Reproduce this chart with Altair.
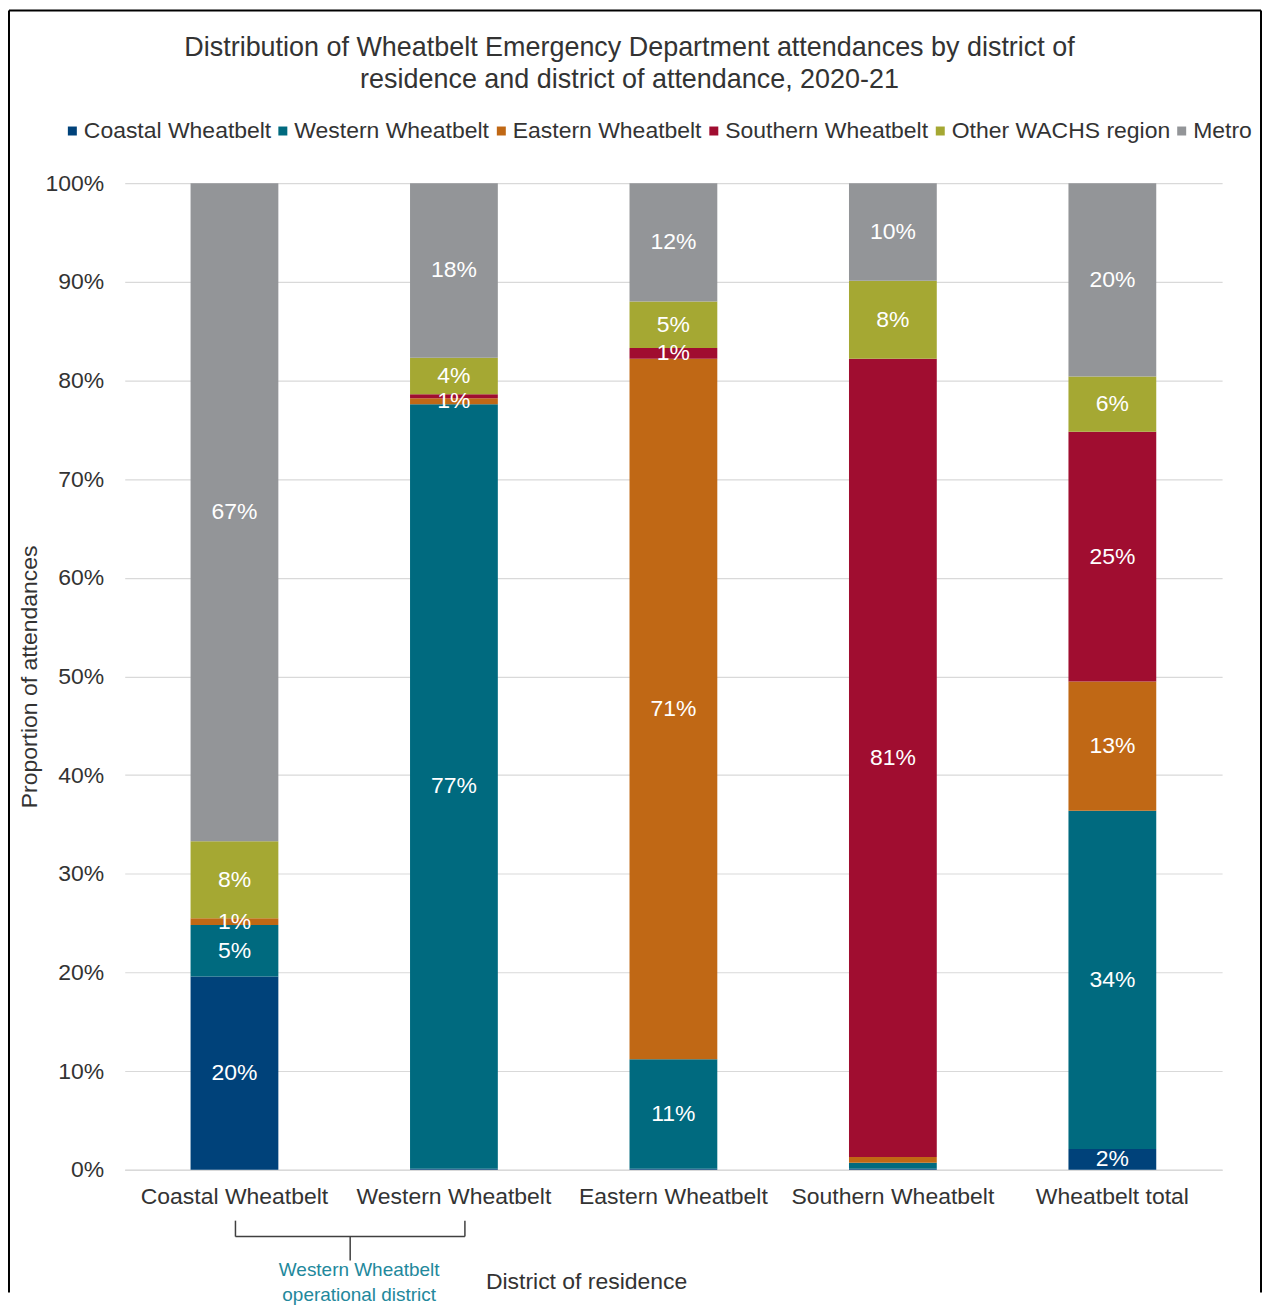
import altair as alt
import pandas as pd

# ---------------- data ----------------
districts = ["Coastal Wheatbelt", "Western Wheatbelt", "Eastern Wheatbelt",
             "Southern Wheatbelt", "Wheatbelt total"]
series = ["Coastal Wheatbelt", "Western Wheatbelt", "Eastern Wheatbelt",
          "Southern Wheatbelt", "Other WACHS region", "Metro"]
colors = ["#00427A", "#006A7F", "#C06815", "#A00D30", "#A5A833", "#939598"]

# percentage of attendances, per district of residence (same order as districts)
coastal_wb = [19.6, 0.1, 0.1, 0.1, 2.1]
western_wb = [5.2, 77.5, 11.1, 0.6, 34.3]
eastern_wb = [0.7, 0.6, 71.0, 0.6, 13.1]
southern_wb = [0.0, 0.4, 1.1, 80.9, 25.3]
other_wachs = [7.8, 3.7, 4.7, 7.9, 5.6]
metro = [66.7, 17.7, 12.0, 9.9, 19.6]

# data labels as printed on the chart ("" = not shown)
lab_coastal_wb = ["20%", "", "", "", "2%"]
lab_western_wb = ["5%", "77%", "11%", "", "34%"]
lab_eastern_wb = ["1%", "1%", "71%", "", "13%"]
lab_southern_wb = ["", "", "1%", "81%", "25%"]
lab_other_wachs = ["8%", "4%", "5%", "8%", "6%"]
lab_metro = ["67%", "18%", "12%", "10%", "20%"]

TITLE_LINES = ["Distribution of Wheatbelt Emergency Department attendances by district of",
               "residence and district of attendance, 2020-21"]
Y_TITLE = "Proportion of attendances"
X_TITLE = "District of residence"
BRACKET_LINES = ["Western Wheatbelt", "operational district"]
BRACKET_FROM = "Coastal Wheatbelt"
BRACKET_TO = "Western Wheatbelt"

# ---------------- table ----------------
vals = [coastal_wb, western_wb, eastern_wb, southern_wb, other_wachs, metro]
labs = [lab_coastal_wb, lab_western_wb, lab_eastern_wb, lab_southern_wb,
        lab_other_wachs, lab_metro]
rows = []
for si, s in enumerate(series):
    for di, d in enumerate(districts):
        rows.append({"district": d, "series": s, "order": si,
                     "value": vals[si][di] / 100.0, "label": labs[si][di]})
df = pd.DataFrame(rows)

FONT = "Liberation Sans"
TXT = "#333333"
W, H = 1100, 989
FS = 23

x_enc = alt.X("district:N", sort=districts,
              scale=alt.Scale(domain=districts, paddingInner=0.6, paddingOuter=0.3),
              axis=alt.Axis(title=None, labelAngle=0, labelFontSize=FS, labelFont=FONT,
                            labelColor=TXT, labelPadding=16, ticks=False, tickSize=0,
                            domainColor="#D9D9D9", domainWidth=1.5, labelLimit=400))

y_scale = alt.Scale(domain=[0, 1], nice=False)

bars = alt.Chart(df).mark_bar().encode(
    x=x_enc,
    y=alt.Y("value:Q", stack="zero", scale=y_scale,
            axis=alt.Axis(format=".0%", values=[i / 10 for i in range(11)],
                          grid=True, gridColor="#D9D9D9", gridWidth=1.2,
                          domain=False, ticks=False, tickSize=0,
                          labelFontSize=FS, labelFont=FONT, labelColor=TXT,
                          labelPadding=21,
                          title=Y_TITLE, titleFont=FONT, titleFontSize=FS,
                          titleFontWeight="normal", titleColor=TXT,
                          titleX=-95, titleY=H / 2, titleAngle=-90,
                          titleAlign="center", titleBaseline="middle")),
    color=alt.Color("series:N", sort=series,
                    scale=alt.Scale(domain=series, range=colors),
                    legend=alt.Legend(title=None, orient="none", direction="horizontal",
                                      legendX=-64, legendY=-64, symbolType="square",
                                      symbolSize=81, symbolStrokeWidth=0,
                                      labelFontSize=FS, labelFont=FONT, labelColor=TXT,
                                      labelOffset=0, columnPadding=0, padding=0,
                                      labelLimit=400, symbolOpacity=1)),
    order=alt.Order("order:Q", sort="ascending"),
)

labels = alt.Chart(df).transform_stack(
    stack="value", groupby=["district"], sort=[alt.SortField("order", "ascending")],
    as_=["v0", "v1"]
).transform_calculate(
    mid="(datum.v0 + datum.v1) / 2"
).transform_filter(
    "datum.label != ''"
).mark_text(color="white", fontSize=FS, font=FONT, align="center", baseline="middle").encode(
    x=alt.X("district:N", sort=districts),
    y=alt.Y("mid:Q", scale=y_scale),
    text="label:N",
)

one = pd.DataFrame({"k": [1]})
title_mark = alt.Chart(one).mark_text(
    text=TITLE_LINES, fontSize=27, font=FONT, color=TXT, align="center",
    baseline="top", lineHeight=32
).encode(x=alt.value(506), y=alt.value(-148))

xtitle_mark = alt.Chart(one).mark_text(
    text=X_TITLE, fontSize=FS, font=FONT, color=TXT, align="center", baseline="middle"
).encode(x=alt.value(463), y=alt.value(1102))

brk = pd.DataFrame({"a": [BRACKET_FROM], "b": [BRACKET_TO]})
BR = "#404040"
brk_h = alt.Chart(brk).mark_rule(color=BR, strokeWidth=1.5, xOffset=1, x2Offset=11).encode(
    x=alt.X("a:N", sort=districts), x2="b:N", y=alt.value(1056))
brk_l = alt.Chart(brk).mark_rule(color=BR, strokeWidth=1.5, xOffset=1).encode(
    x=alt.X("a:N", sort=districts), y=alt.value(1040), y2=alt.value(1056))
brk_r = alt.Chart(brk).mark_rule(color=BR, strokeWidth=1.5, xOffset=11).encode(
    x=alt.X("b:N", sort=districts), y=alt.value(1040), y2=alt.value(1056))
brk_m = alt.Chart(brk).mark_rule(color=BR, strokeWidth=1.5, xOffset=116).encode(
    x=alt.X("a:N", sort=districts), y=alt.value(1056), y2=alt.value(1080))
brk_text = alt.Chart(one).mark_text(
    text=BRACKET_LINES, fontSize=19, font="Liberation Sans Narrow, Liberation Sans",
    color="#22889C", align="center", baseline="middle", lineHeight=26
).encode(x=alt.value(235), y=alt.value(1089))

FR = "#000000"
frame_l = alt.Chart(one).mark_rule(color=FR, strokeWidth=2).encode(
    x=alt.value(-116), y=alt.value(-173), y2=alt.value(1112))
frame_t = alt.Chart(one).mark_rule(color=FR, strokeWidth=2).encode(
    x=alt.value(-116), x2=alt.value(1139), y=alt.value(-173))
frame_r = alt.Chart(one).mark_rule(color=FR, strokeWidth=2).encode(
    x=alt.value(1139), y=alt.value(-173), y2=alt.value(1112))

chart = alt.layer(
    bars, labels, title_mark, xtitle_mark, brk_h, brk_l, brk_r, brk_m, brk_text,
    frame_l, frame_t, frame_r
).resolve_scale(x="shared", y="shared").properties(
    width=W, height=H, padding=0, background="white"
).configure_view(stroke=None).configure_axis(labelFont=FONT)

chart.save("out.html", embed_options={"renderer": "svg", "actions": False})
